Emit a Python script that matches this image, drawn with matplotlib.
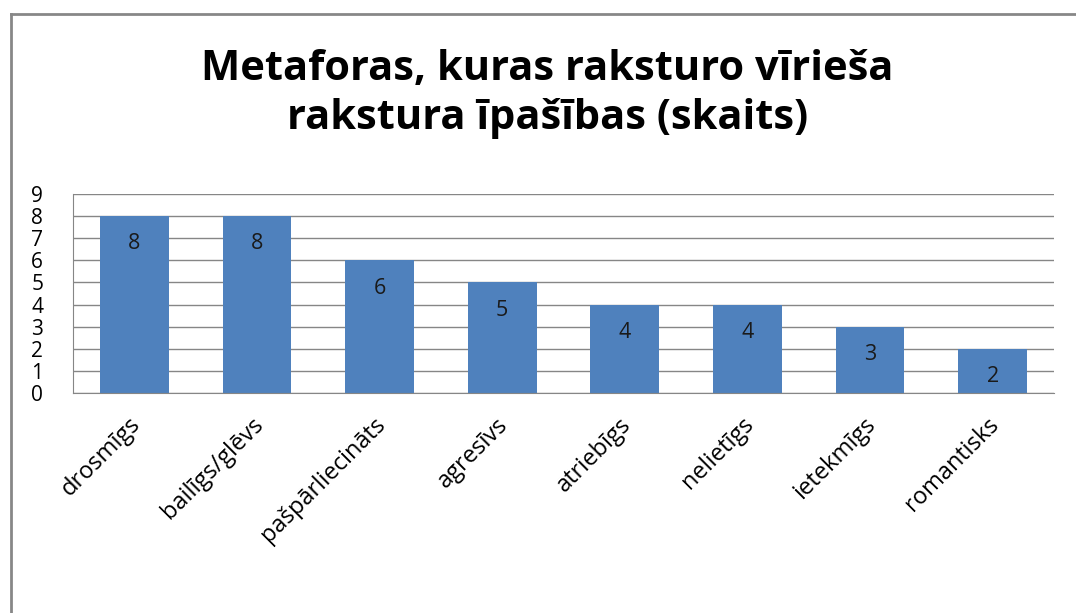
import matplotlib
matplotlib.use("Agg")
import matplotlib.pyplot as plt
import matplotlib.transforms as mtransforms
from matplotlib.lines import Line2D

plt.rcParams["font.family"] = ["Open Sans", "DejaVu Sans"]

CATEGORIES = ["drosmīgs", "bailīgs/glēvs", "pašpārliecināts", "agresīvs",
              "atriebīgs", "nelietīgs", "ietekmīgs", "romantisks"]
VALUES = [8, 8, 6, 5, 4, 4, 3, 2]
Y_TICKS = list(range(0, 10))
TITLE = "Metaforas, kuras raksturo vīrieša\nrakstura īpašības (skaits)"

BAR_COLOR = "#4F81BD"
GRID_COLOR = "#868686"

fig = plt.figure(figsize=(10.76, 6.13), dpi=100)
fig.patch.set_facecolor("white")

# outer chart frame (only left and top edges visible in the crop)
fig.add_artist(Line2D([11 / 1076, 11 / 1076], [0, 1 - 14 / 613],
                      transform=fig.transFigure, color="#878787", lw=2))
fig.add_artist(Line2D([11 / 1076, 1], [1 - 14 / 613, 1 - 14 / 613],
                      transform=fig.transFigure, color="#878787", lw=2))

ax = fig.add_axes([73 / 1076, 1 - 393 / 613, (1054 - 73) / 1076, (393 - 194) / 613])
x = list(range(len(CATEGORIES)))
bars = ax.bar(x, VALUES, width=0.56, color=BAR_COLOR, zorder=2)

ax.set_xlim(-0.5, len(CATEGORIES) - 0.5)
ax.set_ylim(0, 9)
ax.set_yticks(Y_TICKS)
ax.yaxis.grid(True, color=GRID_COLOR, linewidth=1, zorder=0)
ax.set_axisbelow(True)

for side in ["top", "right"]:
    ax.spines[side].set_visible(False)
ax.spines["left"].set_color(GRID_COLOR)
ax.spines["bottom"].set_color(GRID_COLOR)
ax.tick_params(axis="both", length=0, labelsize=15, colors="black")
ax.tick_params(axis="y", pad=30)
for lbl in ax.get_yticklabels():
    lbl.set_horizontalalignment("left")

ax.set_xticks(x)
ax.set_xticklabels(CATEGORIES, rotation=45, ha="right", rotation_mode="anchor",
                   fontsize=17)
ax.tick_params(axis="x", pad=14)
# nudge category labels slightly left, like the original
shift = mtransforms.ScaledTranslation(-6 / 100, 0, fig.dpi_scale_trans)
for lbl in ax.get_xticklabels():
    lbl.set_transform(lbl.get_transform() + shift)

for rect, v in zip(bars, VALUES):
    ax.annotate(str(v), xy=(rect.get_x() + rect.get_width() / 2, v),
                xytext=(0, -20), textcoords="offset points",
                ha="center", va="center", fontsize=15.5, color="#1a1a1a")

fig.text(0.509, 1 - 94 / 613, TITLE, ha="center", va="center",
         fontsize=30, fontweight="bold", linespacing=1.25)

fig.savefig("out.png", dpi=100)
